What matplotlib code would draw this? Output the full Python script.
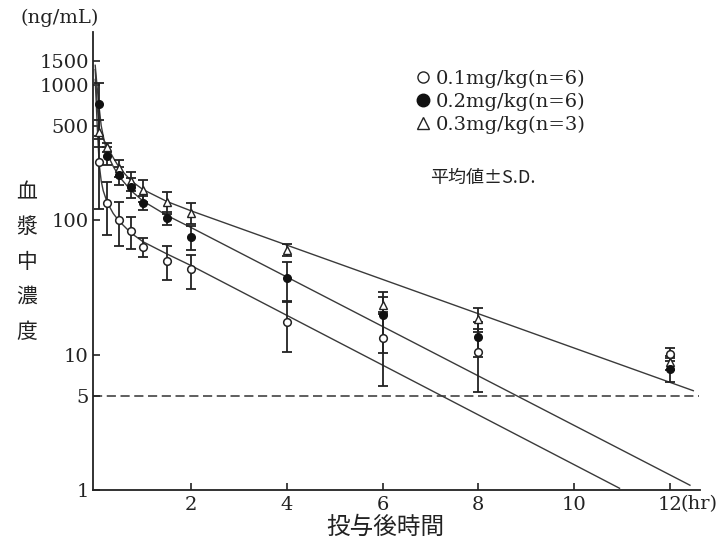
import matplotlib
matplotlib.use("Agg")
import matplotlib.pyplot as plt
from matplotlib.lines import Line2D

plt.rcParams['font.family'] = ['DejaVu Serif', 'Noto Sans CJK JP']

# ---- data ----
times = [0.083, 0.25, 0.5, 0.75, 1, 1.5, 2, 4, 6, 8, 12]

mean_01 = [270, 134, 100, 83, 63, 50, 43, 17.6, 13.4, 10.5, 10.2]
sd_01 = [150, 57, 36, 22, 10, 14, 12, 7, 7.5, 5.2, 1.1]

mean_02 = [720, 300, 215, 176, 134, 103, 75, 37, 19.8, 13.6, 7.9]
sd_02 = [320, 45, 34, 30, 16, 11, 15, 12, 9.5, 4, 1.6]

mean_03 = [450, 345, 243, 195, 167, 136, 113, 60, 23.5, 18.5, 8.8]
sd_03 = [100, 28, 35, 30, 30, 25, 20, 6, 3.5, 3.8, 1.0]

# fitted curves (vertices)
curve_t_01 = [0, 0.042, 0.083, 0.125, 0.167, 0.25, 0.375, 0.5, 0.75, 1, 1.5, 2, 10.95]
curve_c_01 = [1100, 500, 260, 195, 165, 135, 112, 98, 80, 69, 56, 46, 1.03]
curve_t_02 = [0, 0.042, 0.083, 0.125, 0.167, 0.25, 0.375, 0.5, 0.75, 1, 1.5, 2, 12.42]
curve_c_02 = [1400, 950, 680, 500, 420, 310, 250, 210, 165, 138, 108, 88, 1.085]
curve_t_03 = [0, 0.042, 0.083, 0.125, 0.167, 0.25, 0.375, 0.5, 0.75, 1, 1.5, 2, 12.49]
curve_c_03 = [1300, 700, 480, 430, 400, 350, 290, 245, 195, 168, 137, 117, 5.44]

loq = 5
yticks = [1, 5, 10, 100, 500, 1000, 1500]
ytick_labels = ["1", "5", "10", "100", "500", "1000", "1500"]
xticks = [2, 4, 6, 8, 10, 12]
xtick_labels = ["2", "4", "6", "8", "10", "12"]
legend_labels = ["0.1mg/kg(n=6)", "0.2mg/kg(n=6)", "0.3mg/kg(n=3)"]

# ---- figure ----
fig = plt.figure(figsize=(7.26, 5.5), dpi=100)
ax = fig.add_axes([93/726, 1-490/550, (700-93)/726, (490-32)/550])
ax.set_yscale('log')
ax.set_xlim(-0.046, 12.63)
ax.set_ylim(1, 2470)

lc = '#3a3a3a'
for tt, cc in [(curve_t_01, curve_c_01), (curve_t_02, curve_c_02), (curve_t_03, curve_c_03)]:
    ax.plot(tt, cc, color=lc, lw=1.0, zorder=2)

ax.hlines(loq, -0.046, 12.6, colors='#333333', linestyles=(0, (6, 3)), lw=1.1, zorder=1)

ekw = dict(ecolor='#222222', elinewidth=1.3, capsize=3.5, capthick=1.3, linestyle='none', zorder=3)
ax.errorbar(times, mean_01, yerr=sd_01, fmt='none', **ekw)
ax.errorbar(times, mean_02, yerr=sd_02, fmt='none', **ekw)
ax.errorbar(times, mean_03, yerr=sd_03, fmt='none', **ekw)
ax.plot(times, mean_01, 'o', ms=5.5, mfc='white', mec='#222222', mew=1.1, ls='none', zorder=4)
ax.plot(times, mean_03, '^', ms=6, mfc='white', mec='#222222', mew=1.0, ls='none', zorder=4)
ax.plot(times, mean_02, 'o', ms=5.5, mfc='#111111', mec='#111111', ls='none', zorder=5)

for s in ['top', 'right']:
    ax.spines[s].set_visible(False)
for s in ['left', 'bottom']:
    ax.spines[s].set_color('#222222')
    ax.spines[s].set_linewidth(1.3)

ax.yaxis.set_minor_locator(matplotlib.ticker.NullLocator())
ax.set_yticks(yticks)
ax.set_yticklabels(ytick_labels)
ax.set_xticks(xticks)
ax.set_xticklabels(xtick_labels)
ax.tick_params(axis='both', direction='in', length=5, width=1.2, colors='#222222',
               labelsize=14, labelcolor='#222222')
ax.tick_params(axis='y', pad=3)
ax.tick_params(axis='x', pad=4)

ax.annotate("(hr)", xy=(12, 0), xycoords=ax.get_xaxis_transform(),
            xytext=(8, -4), textcoords='offset points', ha='left', va='top',
            fontsize=14, color='#222222')

# axis titles
fig.text(60/726, 1-18/550, "(ng/mL)", ha='center', va='center', fontsize=14, color='#222222')
fig.text(27/726, 1-262/550, "\n".join("血漿中濃度"), ha='center', va='center',
         fontsize=15, linespacing=1.75, color='#222222',
         family=['Noto Sans CJK JP', 'DejaVu Sans'])
fig.text(385/726, 1-527/550, "投与後時間", ha='center', va='center', fontsize=17,
         color='#222222', family=['Noto Sans CJK JP', 'DejaVu Sans'])

# legend
handles = [
    Line2D([], [], marker='o', ls='none', ms=8, mfc='white', mec='#222222', mew=1.0),
    Line2D([], [], marker='o', ls='none', ms=9, mfc='#111111', mec='#111111'),
    Line2D([], [], marker='^', ls='none', ms=8, mfc='white', mec='#222222', mew=1.0),
]
leg = fig.legend(handles, legend_labels, loc='upper left', bbox_to_anchor=(405/726, 1-60/550),
                 frameon=False, handlelength=0.8, handletextpad=0.3, labelspacing=0.25,
                 borderpad=0, fontsize=14)
for t in leg.get_texts():
    t.set_color('#222222')

fig.text(430/726, 1-178/550, "平均値±S.D.", ha='left', va='center', fontsize=13,
         color='#222222', family=['Noto Sans CJK JP', 'DejaVu Sans'])

fig.savefig("out.png", dpi=100)
